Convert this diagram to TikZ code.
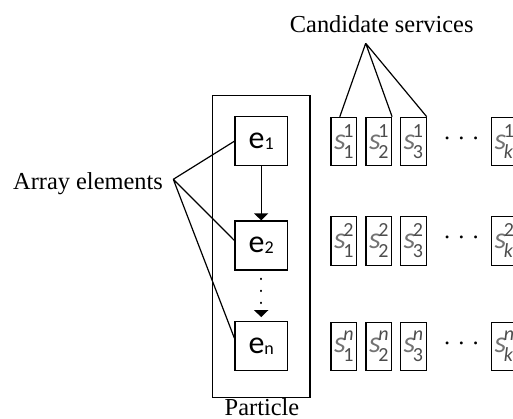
\documentclass[tikz,border=0pt]{standalone}
\usepackage{fontspec}
\setmainfont{Liberation Serif}
\newfontfamily\calfont{Carlito}
\usetikzlibrary{arrows.meta}
\newcommand\elem[1]{{\calfont\fontsize{16}{16}\selectfont e\raisebox{-0.5pt}{\fontsize{9}{9}\selectfont #1}}}
\newcommand\svc[2]{{\calfont\fontsize{15}{15}\selectfont\color{black!55}\textit{s}\kern-1.2pt\color{black!70}\rlap{\raisebox{6pt}{\fontsize{10}{10}\selectfont #2}}\raisebox{-4.5pt}{\fontsize{10}{10}\selectfont #1}}}

\begin{document}
\begin{tikzpicture}[x=0.5pt,y=-0.5pt,line width=0.6pt,
  lbl/.style={font=\fontsize{12.2}{14}\selectfont},
  elembox/.style={draw,minimum width=26.2pt,minimum height=24.5pt,inner sep=0pt},
  svcbox/.style={draw,minimum width=12.8pt,minimum height=24.2pt,inner sep=0pt},
  flow/.style={-{Triangle[length=3.5pt,width=7pt]}}]
\useasboundingbox (0,0) rectangle (513,418);
\clip (0,0) rectangle (513,418);
\node[draw,minimum width=48.7pt,minimum height=151pt] (particle) at (261.3,246.7) {};
\node[lbl,inner sep=0.5pt] (plabel) at (262,407) {Particle};
\node[elembox] (e1) at (261.2,141.2) {\elem{1}};
\node[elembox] (e2) at (261.2,245.5) {\elem{2}};
\node[elembox] (en) at (261.2,346.2) {\elem{n}};
\draw[flow] (e1) -- (e2);
\draw[flow,line width=0.9pt,dash pattern=on 0.3pt off 5.7pt,line cap=round,shorten <=4pt,shorten >=2pt] (e2) -- (en);
\node[svcbox] (s11) at (343.8,141.5) {\svc{1}{1}};
\node[svcbox] (s21) at (378.7,141.5) {\svc{2}{1}};
\node[svcbox] (s31) at (413.3,141.5) {\svc{3}{1}};
\node[lbl] (dots1) at (461.5,141.5) {· · ·};
\node[svcbox] (sk1) at (504,141.5) {\svc{\textit{k}}{1}};
\node[svcbox] (s12) at (343.8,241) {\svc{1}{2}};
\node[svcbox] (s22) at (378.7,241) {\svc{2}{2}};
\node[svcbox] (s32) at (413.3,241) {\svc{3}{2}};
\node[lbl] (dots2) at (461.5,241) {· · ·};
\node[svcbox] (sk2) at (504,241) {\svc{\textit{k}}{2}};
\node[svcbox] (s1n) at (343.8,346.5) {\svc{1}{\textit{n}}};
\node[svcbox] (s2n) at (378.7,346.5) {\svc{2}{\textit{n}}};
\node[svcbox] (s3n) at (413.3,346.5) {\svc{3}{\textit{n}}};
\node[lbl] (dotsn) at (461.5,346.5) {· · ·};
\node[svcbox] (skn) at (504,346.5) {\svc{\textit{k}}{\textit{n}}};
\node[lbl] (cand) at (381.7,24) {Candidate services};
\coordinate (capex) at (365.7,43.3);
\draw (capex) -- ([xshift=-2pt]s11.north) (capex) -- (s21.north east) (capex) -- (s31.north east);
\node[lbl] (arr) at (88,183.5) {Array elements};
\coordinate (aapex) at (173.3,179.3);
\draw (aapex) -- (e1.west) (aapex) -- ([yshift=2.5pt]e2.west) (aapex) -- ([yshift=4pt]en.west);
\end{tikzpicture}
\end{document}
